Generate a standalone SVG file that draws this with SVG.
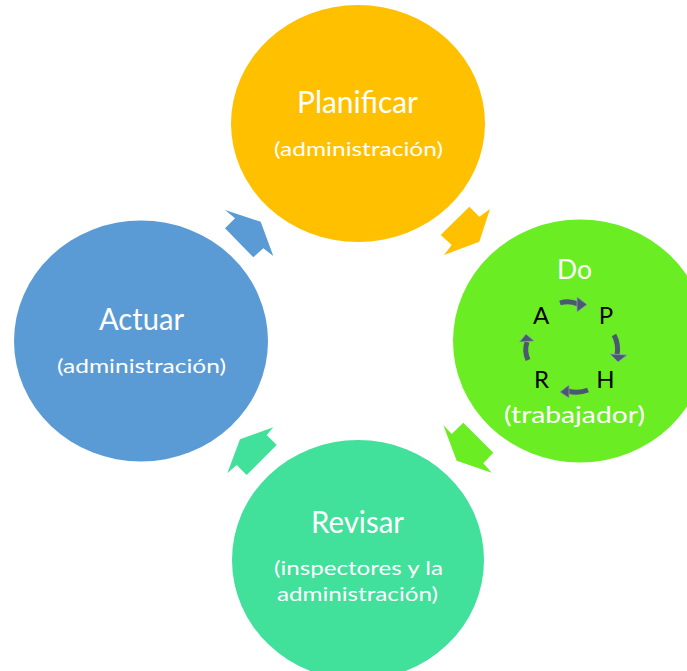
<svg xmlns="http://www.w3.org/2000/svg" width="687" height="671" viewBox="0 0 687 671">
<style>
.t{font-family:Lato,"Open Sans","Liberation Sans",sans-serif;fill:#ffffff;text-anchor:middle}
.k{font-family:Lato,"Open Sans","Liberation Sans",sans-serif;fill:#000000;text-anchor:middle;font-size:24px}
.sh{fill:none;stroke:#4a5870;stroke-width:5}
.hd{fill:#4a5870;stroke:#8d9db3;stroke-width:0.8;stroke-linejoin:round}
</style>
<rect width="687" height="671" fill="#ffffff"/>
<g id="planificar">
<ellipse cx="358" cy="123.5" rx="127" ry="118.5" fill="#ffc000"/>
<text class="t" x="357.5" y="113" font-size="30" textLength="121" lengthAdjust="spacingAndGlyphs">Planificar</text>
<text class="t" x="358.5" y="156" font-size="20" textLength="169" lengthAdjust="spacingAndGlyphs">(administración)</text>
</g>
<g id="do">
<ellipse cx="580" cy="341" rx="127" ry="121.5" fill="#6aee23"/>
<text class="t" x="574.5" y="279" font-size="27" textLength="35" lengthAdjust="spacingAndGlyphs">Do</text>
<text class="k" x="541" y="324">A</text>
<text class="k" x="606" y="324">P</text>
<text class="k" x="541.5" y="388">R</text>
<text class="k" x="605.5" y="388">H</text>
<path class="sh" d="M560,303 Q569,300 578,304"/>
<polygon class="hd" points="577,297 587,304.5 577,312"/>
<path class="sh" d="M614,335 Q619,344 617,355"/>
<polygon class="hd" points="610,354 618,362 627,355"/>
<path class="sh" d="M588,390 Q578,394 568,391"/>
<polygon class="hd" points="569,385 560,392 569,398"/>
<path class="sh" d="M528,360 Q524,351 527,342"/>
<polygon class="hd" points="519.5,342 526,334 534,341"/>
<text class="t" x="574.5" y="423" font-size="24" textLength="141" lengthAdjust="spacingAndGlyphs">(trabajador)</text>
</g>
<g id="revisar">
<ellipse cx="358" cy="560" rx="126" ry="120" fill="#41e09b"/>
<text class="t" x="357.5" y="533" font-size="30" textLength="93" lengthAdjust="spacingAndGlyphs">Revisar</text>
<text class="t" x="358.5" y="575" font-size="20" textLength="169" lengthAdjust="spacingAndGlyphs">(inspectores y la</text>
<text class="t" x="357.5" y="601" font-size="20" textLength="161" lengthAdjust="spacingAndGlyphs">administración)</text>
</g>
<g id="actuar">
<ellipse cx="141" cy="341" rx="127" ry="120.5" fill="#5b9bd5"/>
<text class="t" x="141.5" y="330" font-size="30" textLength="85" lengthAdjust="spacingAndGlyphs">Actuar</text>
<text class="t" x="141.5" y="373" font-size="20" textLength="169" lengthAdjust="spacingAndGlyphs">(administración)</text>
</g>
<g id="connectors">
<polygon fill="#ffc000" points="469.3,206.7 479.3,216.7 490,209 479.3,241.7 444,255 451.7,245 440.7,235"/>
<polygon fill="#6aee23" points="463.3,422.7 451.7,434 443.3,425 456.7,460.7 491.7,472.7 483.3,463.3 493.3,452.7"/>
<polygon fill="#41e09b" points="276.7,445 266.7,435 273.3,427.3 240,439.3 227.3,473.3 236.7,465 246.7,475"/>
<polygon fill="#5b9bd5" points="225,228.3 235,218.3 225,210 260.7,221.7 273.3,256 263.3,248.3 253.3,257.3"/>
</g>
</svg>
